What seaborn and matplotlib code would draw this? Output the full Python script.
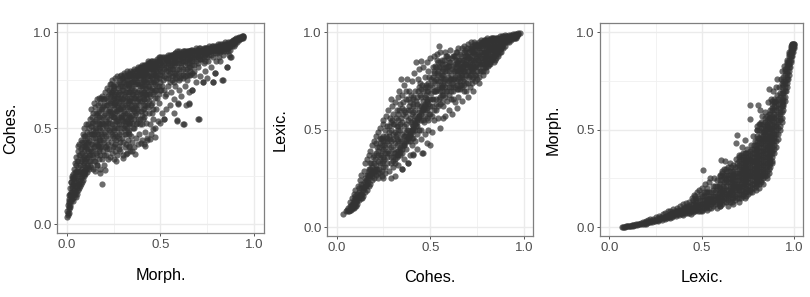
import matplotlib
matplotlib.use('Agg')
import matplotlib.pyplot as plt
import pandas as pd
import seaborn as sns

morph_a = [
    .00, .00, .005, .005, .01, .01, .01, .015, .015, .02,
    .02, .02, .025, .025, .03, .03, .03, .035, .035, .04,
    .04, .04, .04, .045, .045, .05, .05, .05, .05, .055,
    .055, .06, .06, .06, .06, .065, .065, .07, .07, .07,
    .07, .075, .075, .08, .08, .08, .08, .085, .085, .09,
    .09, .09, .09, .095, .095, .10, .10, .10, .10, .10,
    .105, .105, .11, .11, .11, .11, .115, .115, .12, .12,
    .12, .125, .125, .13, .13, .13, .13, .135, .135, .14,
    .14, .14, .14, .145, .145, .15, .15, .15, .15, .15,
    .155, .155, .16, .16, .16, .16, .165, .165, .17, .17,
    .17, .17, .175, .175, .18, .18, .18, .18, .185, .185,
    .19, .19, .19, .19, .195, .195, .20, .20, .20, .20,
    .205, .205, .21, .21, .21, .21, .215, .215, .22, .22,
    .22, .22, .225, .225, .23, .23, .23, .23, .235, .235,
    .24, .24, .24, .24, .245, .245, .25, .25, .25, .25,
    .255, .255, .26, .26, .26, .26, .265, .265, .27, .27,
    .27, .27, .275, .275, .28, .28, .28, .28, .285, .285,
    .29, .29, .29, .29, .295, .295, .30, .30, .30, .30,
    .305, .305, .31, .31, .31, .31, .315, .315, .32, .32,
    .32, .32, .325, .325, .33, .33, .33, .33, .335, .335,
    .34, .34, .34, .34, .345, .345, .35, .35, .35, .35,
    .355, .36, .36, .36, .36, .365, .365, .37, .37, .37,
    .375, .375, .38, .38, .38, .385, .385, .39, .39, .39,
    .395, .40, .40, .40, .40, .405, .405, .41, .41, .41,
    .415, .415, .42, .42, .42, .425, .43, .43, .43, .435,
    .44, .44, .44, .445, .45, .45, .45, .455, .46, .46,
    .465, .47, .47, .475, .48, .48, .48, .485, .49, .49,
    .495, .50, .50, .50, .505, .51, .51, .515, .52, .52,
    .525, .53, .53, .535, .54, .54, .545, .55, .55, .55,
    .555, .56, .56, .565, .57, .57, .575, .58, .58, .585,
    .59, .59, .595, .60, .60, .60, .605, .61, .61, .615,
    .62, .62, .625, .63, .63, .63, .635, .64, .64, .645,
    .65, .65, .655, .66, .66, .665, .67, .67, .675, .68,
    .685, .69, .69, .70, .70, .70, .705, .71, .71, .72,
    .725, .73, .73, .74, .74, .745, .75, .75, .755, .76,
    .765, .77, .775, .78, .78, .785, .79, .79, .795, .80,
    .805, .81, .81, .82, .82, .825, .83, .83, .835, .84,
    .845, .85, .855, .86, .86, .865, .87, .87, .875, .88,
    .885, .89, .89, .895, .90, .90, .905, .91, .91, .915,
    .92, .92, .925, .93, .93, .935, .94, .94, .94, .94,
    .19, .706, .626, .587, .833, .854, .783, .792, .47, .42,
    .397, .365, .35, .318, .299, .263, .459, .52, .596, .655,
    .667, .726, .872, .178, .205, .16, .427, .447, .28, .33,
    # dense core
    .008, .012, .018, .022, .012, .018, .025, .03, .022, .028,
    .032, .038, .042, .048, .035, .04, .045, .05, .055, .052,
    .058, .062, .068, .072, .078, .055, .06, .065, .07, .075,
    .08, .085, .09, .095, .10, .08, .085, .09, .095, .10,
    .105, .11, .115, .12, .125, .105, .11, .115, .12, .125,
    .13, .135, .14, .145, .15, .155, .16, .165, .17, .175,
    .13, .135, .14, .145, .15, .155, .16, .165, .17, .175,
    .18, .185, .19, .195, .20, .205, .21, .215, .22, .225,
    .18, .185, .19, .195, .20, .205, .21, .215, .22, .225,
    .23, .235, .24, .245, .25, .255, .26, .265, .27, .275,
    .23, .235, .24, .245, .25, .255, .26, .265, .27, .275,
    .23, .235, .24, .245, .25, .255, .26, .265, .27, .275,
    .28, .285, .29, .295, .30, .305, .31, .315, .32, .325,
    .28, .285, .29, .295, .30, .305, .31, .315, .32, .325,
    .28, .285, .29, .295, .30, .305, .31, .315, .32, .325,
    .28, .285, .29, .295, .30, .305, .31, .315, .32, .325,
    .33, .335, .34, .345, .35, .355, .36, .365, .37, .375,
    .33, .335, .34, .345, .35, .355, .36, .365, .37, .375,
    .33, .335, .34, .345, .35, .355, .36, .365, .37, .375,
    .33, .335, .34, .345, .35, .355, .36, .365, .37, .375,
    .38, .385, .39, .395, .40, .405, .41, .415, .42, .425,
    .38, .385, .39, .395, .40, .405, .41, .415, .42, .425,
    .38, .385, .39, .395, .40, .405, .41, .415, .42, .425,
    .38, .385, .39, .395, .40, .405, .41, .415, .42, .425,
    .43, .435, .44, .445, .45, .455, .46, .465, .47, .475,
    .43, .435, .44, .445, .45, .455, .46, .465, .47, .475,
    .43, .435, .44, .445, .45, .455, .46, .465, .47, .475,
    .43, .435, .44, .445, .45, .455, .46, .465, .47, .475,
    .48, .49, .50, .51, .52, .53, .54, .55, .56, .57,
    .48, .49, .50, .51, .52, .53, .54, .55, .56, .57,
    .48, .49, .50, .51, .52, .53, .54, .55, .56, .57,
    .48, .49, .50, .51, .52, .53, .54, .55, .56, .57,
    .58, .59, .60, .61, .62, .63, .64, .65, .66, .67,
    .58, .59, .60, .61, .62, .63, .64, .65, .66, .67,
    .58, .59, .60, .61, .62, .63, .64, .65, .66, .67,
    .58, .59, .60, .61, .62, .63, .64, .65, .66, .67,
    .68, .69, .70, .71, .72, .73, .74, .75, .76, .77,
    .68, .69, .70, .71, .72, .73, .74, .75, .76, .77,
    .68, .69, .70, .71, .72, .73, .74, .75, .76, .77,
    .78, .79, .80, .81, .82, .83, .84, .85, .86, .87,
    .78, .79, .80, .81, .82, .83, .84, .85, .86, .87,
    .88, .89, .90, .91, .92, .93, .935, .92, .90, .88,
    # gaps in the body
    .03, .045, .06, .075, .09, .105, .12, .135, .15, .165,
    .035, .05, .065, .08, .095, .11, .125, .14, .155, .17,
    .18, .19, .20, .21, .22, .23, .24, .25, .26, .27,
    .185, .195, .205, .215, .225, .235, .245, .255, .265, .275,
    .28, .29, .30, .31, .32, .33, .34, .35, .36, .37,
    .285, .295, .305, .315, .325, .335, .345, .355, .365, .375,
    .38, .39, .40, .41, .42, .43, .44, .45, .46, .47,
    .385, .395, .405, .415, .425, .435, .445, .455, .465, .475,
    .49, .50, .51, .52, .53, .54, .55, .56, .57, .58,
    .59, .60, .61, .62, .63, .64, .65, .66, .67, .68,
    .50, .52, .54, .56, .58, .60, .62, .64, .66, .68,
    .70, .72, .74, .76, .78, .80, .82, .84, .86, .88,
    .70, .72, .74, .76, .78, .80, .82, .84, .86, .88,
]
cohes_a = [
    .04, .07, .05, .10, .06, .09, .13, .08, .12, .10,
    .15, .19, .12, .22, .13, .17, .25, .15, .21, .14,
    .18, .24, .29, .16, .27, .17, .22, .31, .35, .19,
    .28, .18, .23, .33, .38, .21, .42, .20, .26, .31,
    .36, .24, .44, .22, .29, .34, .40, .27, .47, .25,
    .32, .38, .43, .28, .50, .26, .30, .36, .41, .46,
    .34, .52, .27, .31, .39, .48, .43, .52, .29, .36,
    .44, .33, .55, .30, .38, .47, .60, .42, .53, .29,
    .35, .49, .58, .40, .63, .28, .33, .45, .54, .61,
    .37, .50, .31, .42, .57, .65, .47, .62, .34, .39,
    .52, .59, .44, .66, .29, .36, .49, .63, .41, .55,
    .34, .46, .60, .67, .38, .52, .31, .43, .57, .65,
    .48, .69, .36, .41, .54, .62, .50, .71, .34, .45,
    .59, .67, .39, .55, .35, .48, .63, .73, .43, .69,
    .37, .52, .58, .75, .46, .65, .34, .41, .56, .71,
    .49, .62, .38, .53, .68, .76, .44, .73, .36, .59,
    .66, .77, .50, .71, .41, .47, .56, .63, .38, .75,
    .52, .60, .68, .78, .45, .72, .36, .43, .57, .65,
    .50, .79, .40, .54, .62, .75, .47, .69, .37, .58,
    .66, .80, .44, .73, .41, .52, .61, .77, .49, .69,
    .38, .56, .64, .80, .46, .74, .43, .53, .60, .71,
    .78, .40, .50, .66, .81, .57, .73, .45, .62, .76,
    .53, .69, .42, .59, .82, .47, .78, .55, .64, .72,
    .80, .44, .52, .68, .83, .60, .75, .42, .56, .78,
    .65, .81, .48, .71, .83, .53, .44, .62, .77, .84,
    .58, .68, .80, .52, .47, .74, .85, .63, .55, .78,
    .83, .50, .70, .60, .66, .76, .85, .54, .81, .72,
    .63, .53, .78, .86, .70, .58, .83, .75, .55, .87,
    .67, .60, .80, .85, .72, .88, .78, .62, .83, .87,
    .69, .75, .88, .81, .58, .85, .65, .72, .89, .79,
    .54, .84, .63, .70, .81, .89, .76, .87, .67, .85,
    .52, .78, .90, .72, .83, .88, .62, .75, .86, .90,
    .69, .82, .63, .78, .88, .91, .70, .85, .90, .80,
    .87, .74, .91, .55, .82, .89, .92, .77, .86, .90,
    .74, .84, .92, .80, .88, .92, .76, .90, .85, .93,
    .90, .82, .93, .74, .87, .91, .79, .93, .85, .90,
    .94, .87, .92, .85, .94, .90, .75, .93, .88, .92,
    .95, .90, .82, .93, .95, .88, .91, .95, .87, .94,
    .96, .93, .95, .96, .94, .96, .97, .95, .965, .97,
    .96, .97, .97, .97, .975, .98, .97, .975, .98, .98,
    .21, .548, .523, .541, .752, .82, .74, .789, .456, .41,
    .425, .364, .383, .366, .343, .331, .496, .549, .629, .629,
    .698, .742, .872, .265, .281, .308, .447, .445, .39, .40,
    # dense core
    .06, .11, .09, .13, .15, .16, .17, .20, .22, .24,
    .12, .17, .20, .14, .26, .22, .25, .27, .16, .24,
    .21, .26, .19, .23, .21, .33, .30, .36, .28, .33,
    .25, .23, .28, .26, .33, .37, .31, .35, .41, .28,
    .29, .35, .30, .33, .39, .43, .45, .38, .47, .36,
    .42, .36, .45, .33, .41, .43, .36, .41, .45, .50,
    .51, .47, .53, .47, .48, .55, .47, .53, .56, .38,
    .44, .47, .50, .44, .47, .53, .46, .56, .53, .49,
    .52, .60, .56, .61, .62, .58, .66, .62, .64, .60,
    .53, .57, .47, .56, .50, .56, .47, .59, .46, .55,
    .59, .64, .62, .70, .60, .67, .58, .64, .54, .61,
    .68, .73, .69, .72, .66, .72, .63, .69, .62, .68,
    .52, .60, .48, .55, .50, .56, .47, .53, .50, .55,
    .60, .66, .56, .62, .61, .68, .58, .64, .61, .63,
    .69, .72, .64, .70, .70, .74, .67, .73, .71, .69,
    .74, .77, .73, .76, .76, .78, .72, .77, .75, .78,
    .57, .56, .60, .55, .64, .60, .55, .61, .58, .64,
    .66, .64, .69, .66, .68, .68, .62, .69, .67, .74,
    .72, .73, .75, .71, .74, .74, .70, .76, .73, .78,
    .79, .78, .78, .77, .79, .80, .76, .80, .78, .81,
    .65, .62, .68, .59, .64, .67, .62, .69, .62, .68,
    .73, .70, .76, .73, .72, .72, .69, .74, .68, .74,
    .78, .74, .80, .77, .78, .79, .75, .78, .75, .79,
    .80, .81, .82, .82, .81, .82, .80, .83, .80, .82,
    .68, .72, .72, .67, .70, .71, .68, .74, .73, .70,
    .74, .78, .77, .75, .77, .76, .74, .79, .78, .75,
    .81, .82, .83, .81, .82, .81, .80, .81, .82, .80,
    .83, .85, .84, .84, .84, .85, .83, .85, .84, .83,
    .72, .76, .74, .78, .77, .76, .80, .79, .81, .79,
    .79, .83, .80, .80, .81, .82, .84, .81, .84, .83,
    .82, .85, .84, .85, .84, .86, .85, .85, .86, .87,
    .86, .87, .87, .87, .86, .87, .87, .88, .88, .88,
    .78, .81, .79, .82, .81, .80, .81, .84, .82, .83,
    .84, .86, .84, .84, .85, .85, .84, .86, .85, .87,
    .87, .88, .87, .88, .87, .89, .88, .89, .90, .89,
    .89, .90, .90, .89, .90, .90, .90, .90, .90, .91,
    .83, .85, .84, .86, .86, .87, .85, .87, .88, .88,
    .88, .88, .87, .88, .89, .90, .90, .89, .90, .90,
    .90, .92, .91, .92, .91, .91, .92, .92, .92, .92,
    .90, .89, .92, .90, .91, .92, .90, .92, .92, .93,
    .92, .92, .93, .93, .93, .94, .94, .94, .94, .94,
    .95, .95, .95, .96, .965, .97, .97, .975, .965, .955,
    # gaps in the body
    .19, .32, .41, .39, .46, .40, .50, .56, .50, .58,
    .24, .20, .27, .43, .34, .42, .31, .38, .58, .42,
    .40, .53, .36, .51, .42, .58, .50, .63, .42, .50,
    .66, .65, .40, .39, .70, .67, .40, .45, .54, .66,
    .45, .57, .54, .51, .54, .47, .53, .57, .59, .52,
    .43, .65, .59, .42, .48, .53, .62, .50, .66, .60,
    .55, .52, .57, .65, .58, .65, .64, .62, .60, .66,
    .66, .69, .55, .60, .71, .61, .70, .58, .69, .77,
    .68, .70, .72, .70, .68, .76, .74, .77, .74, .76,
    .76, .75, .78, .76, .77, .78, .78, .80, .79, .78,
    .82, .83, .82, .83, .85, .86, .87, .87, .87, .86,
    .88, .88, .89, .90, .91, .91, .92, .93, .92, .93,
    .90, .90, .91, .91, .93, .89, .895, .915, .90, .945,
]

cohes_b = [
    .034, .05, .055, .06, .065, .07, .07, .075, .08, .08,
    .085, .09, .09, .095, .10, .10, .10, .105, .11, .11,
    .115, .12, .12, .125, .13, .13, .13, .135, .14, .14,
    .145, .15, .15, .15, .155, .16, .16, .16, .165, .17,
    .17, .17, .175, .18, .18, .18, .185, .19, .19, .19,
    .195, .20, .20, .20, .205, .21, .21, .21, .215, .22,
    .22, .22, .225, .23, .23, .23, .235, .24, .24, .24,
    .245, .249, .25, .25, .25, .255, .26, .26, .26, .265,
    .27, .27, .27, .275, .28, .28, .28, .285, .288, .29,
    .29, .29, .295, .30, .30, .30, .30, .305, .31, .31,
    .313, .315, .32, .32, .32, .325, .33, .33, .33, .335,
    .34, .34, .34, .343, .345, .35, .35, .35, .355, .36,
    .36, .36, .365, .37, .37, .37, .375, .38, .38, .38,
    .385, .39, .39, .39, .395, .40, .40, .40, .405, .41,
    .41, .41, .415, .42, .42, .423, .425, .43, .43, .43,
    .435, .44, .44, .44, .445, .448, .45, .45, .45, .455,
    .46, .46, .465, .47, .47, .47, .475, .48, .48, .48,
    .485, .49, .49, .49, .495, .50, .50, .50, .505, .51,
    .51, .515, .52, .52, .52, .525, .53, .53, .534, .535,
    .54, .54, .545, .548, .55, .55, .55, .555, .56, .56,
    .565, .569, .57, .57, .578, .58, .58, .585, .59, .59,
    .595, .60, .60, .60, .605, .61, .614, .615, .62, .62,
    .625, .63, .63, .635, .64, .64, .645, .65, .65, .65,
    .655, .66, .66, .665, .67, .67, .675, .68, .68, .68,
    .685, .69, .69, .70, .70, .70, .705, .71, .71, .715,
    .72, .72, .725, .73, .73, .735, .74, .74, .74, .745,
    .75, .75, .755, .76, .76, .765, .77, .77, .775, .78,
    .78, .785, .79, .79, .795, .80, .80, .80, .805, .81,
    .81, .815, .82, .82, .825, .83, .83, .835, .84, .84,
    .845, .85, .85, .855, .86, .86, .865, .87, .87, .875,
    .88, .88, .885, .89, .89, .895, .90, .90, .905, .91,
    .91, .915, .92, .92, .925, .93, .93, .935, .94, .94,
    .945, .95, .95, .955, .96, .96, .965, .97, .97, .98,
    .33, .34, .35, .36, .37, .38, .39, .40, .41, .42,
    .43, .44, .45, .46, .47, .48, .379, .35, .41, .454,
    # dense core
    .06, .07, .075, .08, .085, .09, .095, .10, .105, .11,
    .115, .12, .125, .13, .135, .14, .145, .15, .155, .16,
    .165, .17, .175, .18, .185, .19, .195, .20, .205, .21,
    .215, .22, .225, .23, .235, .24, .245, .25, .255, .26,
    .265, .27, .275, .28, .285, .29, .295, .30, .305, .31,
    .315, .32, .325, .33, .335, .34, .345, .35, .355, .36,
    .365, .37, .375, .38, .385, .39, .395, .40, .405, .41,
    .415, .42, .425, .43, .435, .44, .445, .45, .455, .46,
    .465, .47, .475, .48, .485, .49, .495, .50, .505, .51,
    .515, .52, .525, .53, .535, .54, .545, .55, .555, .56,
    .515, .52, .525, .53, .535, .54, .545, .55, .555, .56,
    .565, .57, .575, .58, .585, .59, .595, .60, .605, .61,
    .565, .57, .575, .58, .585, .59, .595, .60, .605, .61,
    .615, .62, .625, .63, .635, .64, .645, .65, .655, .66,
    .615, .62, .625, .63, .635, .64, .645, .65, .655, .66,
    .665, .67, .675, .68, .685, .69, .695, .70, .705, .71,
    .665, .67, .675, .68, .685, .69, .695, .70, .705, .71,
    .665, .67, .675, .68, .685, .69, .695, .70, .705, .71,
    .715, .72, .725, .73, .735, .74, .745, .75, .755, .76,
    .715, .72, .725, .73, .735, .74, .745, .75, .755, .76,
    .715, .72, .725, .73, .735, .74, .745, .75, .755, .76,
    .765, .77, .775, .78, .785, .79, .795, .80, .805, .81,
    .765, .77, .775, .78, .785, .79, .795, .80, .805, .81,
    .765, .77, .775, .78, .785, .79, .795, .80, .805, .81,
    .815, .82, .825, .83, .835, .84, .845, .85, .855, .86,
    .815, .82, .825, .83, .835, .84, .845, .85, .855, .86,
    .815, .82, .825, .83, .835, .84, .845, .85, .855, .86,
    .865, .87, .875, .88, .885, .89, .895, .90, .905, .91,
    .865, .87, .875, .88, .885, .89, .895, .90, .905, .91,
    .92, .925, .93, .935, .94, .945, .95, .955, .96, .965,
    .29, .30, .31, .32, .33, .34, .35, .36, .37, .38,
    .39, .40, .41, .42, .43, .44, .45, .46, .47, .48,
    # gaps in the body
    .10, .11, .12, .13, .14, .15, .16, .17, .18, .19,
    .20, .21, .22, .23, .24, .25, .26, .27, .28, .29,
    .20, .21, .22, .23, .24, .25, .26, .27, .28, .29,
    .30, .31, .32, .33, .34, .35, .36, .37, .38, .39,
    .30, .31, .32, .33, .34, .35, .36, .37, .38, .39,
    .40, .41, .42, .43, .44, .45, .46, .47, .48, .49,
    .40, .41, .42, .43, .44, .45, .46, .47, .48, .49,
    .50, .51, .52, .53, .54, .55, .56, .57, .58, .59,
    .50, .51, .52, .53, .54, .55, .56, .57, .58, .59,
    .60, .61, .62, .63, .64, .65, .66, .67, .68, .69,
    .60, .61, .62, .63, .64, .65, .66, .67, .68, .69,
    .70, .72, .74, .76, .78, .80, .82, .84, .86, .88,
    .71, .73, .75, .77, .79, .81, .83, .85, .87, .89,
]
lexic_b = [
    .068, .08, .09, .10, .085, .09, .13, .11, .10, .15,
    .12, .10, .14, .17, .11, .15, .19, .13, .12, .17,
    .21, .14, .18, .24, .15, .20, .27, .17, .16, .22,
    .29, .18, .25, .33, .21, .19, .27, .35, .23, .21,
    .30, .37, .26, .22, .33, .39, .28, .24, .31, .42,
    .36, .25, .33, .44, .29, .27, .38, .47, .41, .25,
    .34, .49, .30, .28, .43, .51, .37, .26, .33, .46,
    .53, .25, .31, .40, .55, .35, .28, .44, .50, .57,
    .33, .38, .52, .60, .29, .42, .47, .56, .66, .25,
    .36, .50, .62, .31, .40, .45, .58, .53, .33, .64,
    .263, .47, .36, .42, .60, .67, .32, .39, .55, .70,
    .41, .50, .63, .76, .44, .30, .38, .68, .58, .35,
    .42, .73, .47, .40, .53, .66, .76, .33, .44, .60,
    .70, .37, .48, .64, .54, .42, .50, .75, .67, .37,
    .46, .59, .79, .44, .70, .846, .52, .40, .48, .63,
    .76, .50, .56, .81, .68, .855, .45, .55, .62, .73,
    .38, .82, .54, .48, .60, .77, .68, .43, .56, .85,
    .72, .50, .63, .80, .58, .42, .66, .87, .76, .49,
    .62, .82, .55, .70, .88, .74, .60, .66, .891, .79,
    .56, .85, .72, .932, .51, .63, .90, .77, .68, .86,
    .80, .562, .62, .73, .899, .57, .84, .70, .65, .88,
    .77, .60, .72, .85, .91, .66, .583, .81, .70, .88,
    .76, .64, .84, .90, .61, .80, .73, .67, .86, .92,
    .77, .71, .89, .82, .65, .92, .75, .70, .86, .93,
    .80, .74, .90, .67, .84, .94, .77, .72, .88, .95,
    .81, .92, .74, .70, .86, .95, .78, .89, .94, .83,
    .76, .92, .86, .74, .95, .80, .90, .96, .84, .78,
    .93, .87, .82, .96, .90, .80, .85, .94, .97, .83,
    .91, .96, .84, .88, .94, .86, .97, .91, .85, .95,
    .89, .87, .97, .93, .88, .96, .91, .90, .98, .95,
    .92, .97, .95, .92, .98, .96, .93, .985, .96, .95,
    .98, .97, .95, .985, .97, .96, .985, .98, .97, .99,
    .98, .97, .99, .985, .98, .99, .985, .99, .995, .995,
    .37, .385, .40, .42, .44, .46, .47, .49, .51, .53,
    .54, .57, .58, .60, .62, .64, .33, .30, .374, .381,
    # dense core
    .08, .11, .09, .12, .10, .12, .13, .13, .11, .14,
    .15, .16, .17, .17, .15, .19, .20, .21, .24, .22,
    .27, .25, .29, .27, .33, .28, .29, .30, .35, .32,
    .30, .37, .41, .33, .45, .39, .36, .47, .42, .38,
    .47, .44, .39, .52, .45, .41, .55, .48, .38, .43,
    .56, .48, .52, .44, .60, .45, .56, .48, .64, .52,
    .59, .70, .50, .55, .62, .56, .68, .58, .62, .66,
    .55, .60, .65, .56, .70, .62, .74, .67, .60, .70,
    .62, .67, .73, .65, .60, .70, .77, .62, .69, .72,
    .66, .75, .70, .76, .71, .78, .66, .70, .73, .78,
    .77, .80, .83, .82, .86, .80, .82, .85, .82, .72,
    .70, .78, .75, .72, .82, .74, .83, .68, .76, .72,
    .84, .81, .86, .80, .88, .82, .87, .80, .85, .78,
    .74, .66, .80, .72, .82, .71, .85, .76, .81, .75,
    .87, .76, .88, .80, .86, .84, .90, .80, .86, .84,
    .73, .72, .80, .76, .84, .78, .82, .74, .83, .78,
    .88, .85, .86, .90, .91, .84, .88, .80, .90, .85,
    .78, .78, .83, .83, .88, .88, .92, .87, .87, .92,
    .80, .76, .82, .77, .85, .82, .78, .80, .82, .85,
    .86, .84, .88, .83, .90, .86, .87, .88, .89, .88,
    .91, .90, .93, .90, .93, .91, .93, .94, .93, .92,
    .84, .80, .87, .82, .84, .86, .85, .88, .86, .87,
    .90, .87, .92, .89, .90, .90, .93, .91, .90, .93,
    .94, .93, .95, .95, .96, .94, .95, .96, .94, .96,
    .84, .86, .88, .89, .87, .90, .86, .89, .90, .91,
    .91, .92, .92, .93, .94, .92, .93, .93, .95, .93,
    .95, .96, .97, .96, .97, .97, .96, .96, .97, .97,
    .93, .94, .92, .94, .93, .94, .95, .95, .97, .96,
    .96, .96, .97, .96, .98, .96, .97, .97, .98, .97,
    .96, .98, .97, .97, .98, .97, .98, .97, .985, .98,
    .33, .34, .35, .37, .39, .40, .42, .43, .45, .47,
    .48, .50, .52, .54, .55, .57, .59, .61, .63, .66,
    # gaps in the body
    .16, .15, .20, .22, .20, .23, .24, .27, .30, .26,
    .37, .30, .39, .36, .29, .34, .41, .36, .38, .44,
    .28, .43, .28, .46, .42, .44, .31, .46, .49, .54,
    .53, .38, .52, .58, .53, .61, .47, .57, .66, .60,
    .36, .49, .45, .50, .37, .54, .60, .49, .50, .44,
    .53, .50, .57, .67, .59, .50, .55, .57, .70, .55,
    .46, .63, .50, .52, .72, .71, .65, .72, .61, .74,
    .58, .66, .60, .70, .62, .75, .72, .68, .76, .70,
    .73, .57, .79, .63, .75, .67, .64, .76, .67, .80,
    .75, .70, .73, .77, .75, .71, .80, .77, .73, .70,
    .83, .76, .83, .88, .78, .83, .73, .81, .80, .86,
    .78, .80, .75, .77, .80, .82, .85, .88, .89, .90,
    .82, .80, .84, .85, .88, .89, .91, .91, .92, .955,
]

lexic_c = [
    .07, .075, .08, .085, .09, .095, .10, .105, .11, .115,
    .12, .125, .13, .135, .14, .145, .15, .155, .16, .165,
    .17, .175, .18, .185, .19, .195, .20, .205, .21, .215,
    .22, .225, .23, .235, .24, .245, .25, .255, .26, .265,
    .27, .275, .28, .285, .29, .295, .30, .30, .305, .31,
    .315, .32, .325, .33, .33, .335, .34, .34, .345, .35,
    .355, .36, .36, .365, .37, .37, .375, .38, .38, .385,
    .39, .395, .40, .40, .405, .41, .41, .415, .42, .42,
    .425, .43, .43, .435, .44, .44, .445, .45, .45, .45,
    .455, .46, .46, .465, .47, .47, .475, .48, .48, .485,
    .49, .49, .495, .50, .50, .50, .506, .51, .51, .515,
    .52, .52, .525, .53, .53, .535, .54, .54, .544, .55,
    .55, .555, .56, .56, .565, .57, .57, .575, .58, .58,
    .585, .59, .59, .595, .60, .60, .60, .604, .605, .61,
    .61, .615, .62, .622, .625, .63, .63, .635, .64, .64,
    .645, .65, .65, .65, .655, .66, .66, .665, .67, .67,
    .675, .68, .68, .683, .685, .69, .69, .69, .695, .70,
    .70, .70, .70, .705, .71, .71, .715, .715, .72, .72,
    .72, .725, .73, .73, .733, .735, .74, .74, .74, .745,
    .75, .75, .75, .755, .757, .76, .76, .762, .765, .77,
    .77, .77, .775, .78, .78, .78, .785, .79, .79, .79,
    .795, .80, .80, .80, .804, .805, .81, .81, .81, .814,
    .815, .82, .82, .82, .825, .83, .83, .83, .835, .84,
    .84, .84, .845, .85, .85, .85, .85, .855, .86, .86,
    .861, .865, .87, .87, .87, .875, .88, .88, .88, .88,
    .885, .89, .89, .89, .895, .90, .90, .90, .90, .905,
    .905, .91, .91, .91, .915, .92, .92, .92, .925, .93,
    .93, .93, .935, .94, .94, .94, .945, .95, .95, .95,
    .955, .96, .96, .96, .965, .97, .97, .97, .975, .98,
    .98, .985, .985, .99, .99, .99, .995, .995, .995, .995,
    # dense core
    .30, .31, .32, .33, .34, .35, .36, .37, .38, .39,
    .40, .41, .42, .43, .44, .45, .46, .47, .48, .49,
    .40, .41, .42, .43, .44, .45, .46, .47, .48, .49,
    .50, .51, .52, .53, .54, .55, .56, .57, .58, .59,
    .50, .51, .52, .53, .54, .55, .56, .57, .58, .59,
    .50, .51, .52, .53, .54, .55, .56, .57, .58, .59,
    .60, .61, .62, .63, .64, .65, .66, .67, .68, .69,
    .60, .61, .62, .63, .64, .65, .66, .67, .68, .69,
    .60, .61, .62, .63, .64, .65, .66, .67, .68, .69,
    .60, .61, .62, .63, .64, .65, .66, .67, .68, .69,
    .60, .61, .62, .63, .64, .65, .66, .67, .68, .69,
    .60, .61, .62, .63, .64, .65, .66, .67, .68, .69,
    .70, .71, .72, .73, .74, .75, .76, .77, .78, .79,
    .70, .71, .72, .73, .74, .75, .76, .77, .78, .79,
    .70, .71, .72, .73, .74, .75, .76, .77, .78, .79,
    .70, .71, .72, .73, .74, .75, .76, .77, .78, .79,
    .70, .71, .72, .73, .74, .75, .76, .77, .78, .79,
    .70, .71, .72, .73, .74, .75, .76, .77, .78, .79,
    .70, .71, .72, .73, .74, .75, .76, .77, .78, .79,
    .70, .71, .72, .73, .74, .75, .76, .77, .78, .79,
    .70, .71, .72, .73, .74, .75, .76, .77, .78, .79,
    .80, .81, .82, .83, .84, .85, .86, .87, .88, .89,
    .80, .81, .82, .83, .84, .85, .86, .87, .88, .89,
    .80, .81, .82, .83, .84, .85, .86, .87, .88, .89,
    .80, .81, .82, .83, .84, .85, .86, .87, .88, .89,
    .80, .81, .82, .83, .84, .85, .86, .87, .88, .89,
    .80, .81, .82, .83, .84, .85, .86, .87, .88, .89,
    .80, .81, .82, .83, .84, .85, .86, .87, .88, .89,
    .80, .81, .82, .83, .84, .85, .86, .87, .88, .89,
    .80, .81, .82, .83, .84, .85, .86, .87, .88, .89,
    .80, .81, .82, .83, .84, .85, .86, .87, .88, .89,
    .80, .81, .82, .83, .84, .85, .86, .87, .88, .89,
    .80, .81, .82, .83, .84, .85, .86, .87, .88, .89,
    .80, .81, .82, .83, .84, .85, .86, .87, .88, .89,
    .80, .81, .82, .83, .84, .85, .86, .87, .88, .89,
    .90, .91, .92, .93, .94, .95, .96, .97, .98, .985,
    .90, .91, .92, .93, .94, .95, .96, .97, .98, .985,
    .90, .91, .92, .93, .94, .95, .96, .97, .98, .985,
    .90, .91, .92, .93, .94, .95, .96, .97, .98, .985,
    .90, .91, .92, .93, .94, .95, .96, .97, .98, .985,
    .90, .91, .92, .93, .94, .95, .96, .97, .98, .985,
    # gaps in the band
    .20, .22, .24, .26, .28, .30, .32, .34, .36, .38,
    .40, .42, .44, .46, .48, .50, .52, .54, .56, .58,
    .60, .62, .64, .66, .68, .70, .72, .74, .76, .78,
    .61, .63, .65, .67, .69, .71, .73, .75, .77, .79,
    .82, .84, .86, .88, .90, .92, .94, .96, .97, .98,
]
morph_c = [
    .00, .00, .002, .002, .003, .004, .004, .005, .006, .006,
    .008, .006, .01, .012, .01, .014, .012, .018, .016, .014,
    .02, .016, .024, .018, .026, .02, .03, .022, .034, .026,
    .04, .03, .028, .042, .035, .03, .05, .036, .045, .032,
    .055, .04, .05, .036, .065, .045, .04, .07, .055, .046,
    .08, .05, .065, .045, .085, .06, .05, .075, .095, .06,
    .085, .055, .075, .10, .065, .09, .06, .08, .11, .07,
    .095, .065, .075, .12, .10, .07, .09, .125, .08, .11,
    .09, .07, .13, .10, .08, .12, .15, .075, .10, .14,
    .165, .085, .12, .16, .09, .13, .18, .10, .15, .19,
    .085, .12, .17, .09, .14, .20, .294, .10, .16, .22,
    .11, .18, .14, .09, .20, .12, .15, .23, .251, .10,
    .18, .13, .11, .21, .25, .12, .16, .19, .10, .24,
    .15, .12, .21, .27, .11, .18, .24, .344, .15, .28,
    .12, .21, .16, .34, .25, .13, .19, .29, .11, .23,
    .17, .13, .21, .27, .31, .15, .24, .19, .12, .29,
    .22, .14, .26, .431, .35, .17, .472, .31, .24, .13,
    .19, .28, .36, .21, .15, .33, .412, .25, .17, .30,
    .38, .22, .15, .27, .446, .33, .18, .24, .36, .40,
    .17, .21, .30, .27, .557, .19, .35, .626, .42, .18,
    .24, .32, .47, .20, .28, .38, .44, .19, .25, .34,
    .50, .22, .30, .40, .629, .46, .20, .27, .36, .60,
    .53, .24, .32, .43, .57, .22, .29, .39, .49, .26,
    .35, .59, .45, .25, .31, .41, .52, .64, .28, .37,
    .708, .47, .31, .40, .56, .66, .33, .43, .51, .61,
    .70, .38, .47, .56, .65, .41, .52, .60, .72, .762,
    .68, .45, .55, .63, .72, .50, .59, .67, .76, .54,
    .64, .72, .80, .60, .69, .77, .83, .65, .74, .81,
    .70, .72, .79, .85, .76, .78, .84, .89, .82, .85,
    .90, .88, .92, .90, .92, .94, .92, .93, .94, .94,
    # dense core
    .05, .055, .06, .06, .065, .07, .07, .08, .075, .08,
    .09, .08, .10, .09, .10, .09, .10, .11, .12, .11,
    .06, .105, .07, .11, .065, .12, .14, .15, .08, .14,
    .11, .12, .13, .11, .13, .12, .13, .14, .13, .14,
    .16, .14, .16, .15, .18, .15, .16, .18, .16, .17,
    .08, .18, .10, .18, .10, .16, .19, .21, .21, .19,
    .13, .14, .13, .15, .14, .15, .13, .15, .16, .15,
    .16, .17, .18, .17, .16, .18, .17, .17, .19, .19,
    .20, .19, .20, .21, .19, .23, .20, .21, .22, .21,
    .22, .24, .23, .24, .25, .25, .22, .24, .24, .26,
    .26, .26, .27, .27, .27, .29, .26, .27, .28, .28,
    .11, .29, .30, .30, .31, .33, .29, .32, .31, .33,
    .15, .17, .16, .18, .16, .19, .18, .20, .22, .21,
    .17, .19, .19, .20, .20, .23, .21, .22, .24, .23,
    .21, .22, .21, .23, .22, .25, .23, .26, .26, .27,
    .24, .24, .25, .25, .26, .27, .26, .28, .30, .29,
    .26, .27, .28, .29, .28, .29, .29, .30, .32, .31,
    .30, .29, .31, .31, .30, .32, .31, .34, .34, .36,
    .32, .31, .33, .33, .32, .34, .33, .36, .36, .38,
    .34, .35, .35, .35, .34, .36, .37, .38, .40, .40,
    .37, .37, .36, .38, .38, .38, .39, .40, .42, .42,
    .23, .22, .23, .25, .28, .27, .30, .33, .34, .40,
    .25, .24, .26, .27, .30, .29, .32, .35, .36, .42,
    .27, .26, .28, .30, .33, .33, .34, .37, .39, .44,
    .29, .29, .30, .32, .36, .36, .36, .39, .41, .46,
    .31, .31, .33, .34, .38, .38, .38, .41, .44, .48,
    .33, .33, .35, .36, .40, .40, .40, .43, .46, .50,
    .35, .35, .37, .38, .42, .43, .42, .45, .48, .52,
    .37, .37, .39, .41, .44, .45, .44, .47, .50, .54,
    .39, .39, .41, .43, .46, .47, .46, .49, .53, .56,
    .42, .41, .44, .45, .48, .49, .49, .51, .55, .58,
    .44, .43, .46, .47, .50, .51, .51, .53, .57, .60,
    .47, .46, .48, .49, .52, .53, .54, .56, .60, .62,
    .50, .50, .51, .51, .54, .55, .56, .58, .63, .64,
    .52, .53, .54, .53, .56, .57, .58, .60, .65, .66,
    .44, .48, .52, .56, .62, .67, .74, .80, .86, .90,
    .48, .51, .55, .59, .65, .70, .77, .82, .88, .91,
    .53, .54, .58, .62, .67, .72, .80, .84, .90, .93,
    .57, .58, .61, .66, .70, .75, .82, .86, .91, .94,
    .62, .61, .64, .69, .73, .78, .84, .88, .92, .935,
    .65, .66, .69, .74, .75, .80, .86, .90, .93, .94,
    # gaps in the band
    .018, .024, .03, .035, .045, .05, .055, .055, .065, .07,
    .085, .09, .09, .105, .11, .12, .125, .14, .14, .15,
    .14, .15, .17, .18, .20, .20, .23, .25, .27, .29,
    .18, .23, .20, .25, .22, .28, .30, .35, .34, .33,
    .27, .32, .34, .38, .50, .56, .63, .76, .85, .88,
]

panels = [
    ('Morph.', 'Cohes.', morph_a, cohes_a),
    ('Cohes.', 'Lexic.', cohes_b, lexic_b),
    ('Lexic.', 'Morph.', lexic_c, morph_c),
]
ticks = [0.0, 0.5, 1.0]
minor = [0.25, 0.75]
# panel edges in pixels: left, right, top, bottom
boxes = [(57.3, 263.5, 22.7, 233.3), (327.3, 533.3, 22.7, 236), (600.3, 803, 22.7, 236)]
ylims = [(-0.047, 1.05), (-0.046, 1.05), (-0.046, 1.05)]
xlims = [(-0.05, 1.05), (-0.05, 1.05), (-0.049, 1.046)]

sns.set_theme(style='white')
plt.rcParams['font.family'] = ['Liberation Sans', 'DejaVu Sans']

W, H = 810, 297
fig = plt.figure(figsize=(8.1, 2.97), dpi=100)
for i, (xname, yname, xs, ys) in enumerate(panels):
    l, r, t, b = boxes[i]
    ax = fig.add_axes([l / W, 1 - b / H, (r - l) / W, (b - t) / H])
    df = pd.DataFrame({xname: xs, yname: ys})
    sns.scatterplot(data=df, x=xname, y=yname, ax=ax, s=20, color='#333333',
                    alpha=0.72, linewidth=0, zorder=3)
    ax.set_xlim(xlims[i])
    ax.set_ylim(ylims[i])
    ax.set_xticks(ticks)
    ax.set_yticks(ticks)
    ax.set_xticklabels(['0.0', '0.5', '1.0'])
    ax.set_yticklabels(['0.0', '0.5', '1.0'])
    ax.set_xticks(minor, minor=True)
    ax.set_yticks(minor, minor=True)
    ax.grid(True, which='major', color='#EBEBEB', lw=1.0, zorder=0)
    ax.grid(True, which='minor', color='#F0F0F0', lw=0.6, zorder=0)
    ax.set_axisbelow(True)
    ax.tick_params(axis='both', which='major', length=2.5, width=0.7, color='#555555',
                   labelsize=9.5, labelcolor='#4D4D4D', pad=1.5, bottom=True, left=True)
    ax.tick_params(axis='both', which='minor', length=0)
    for s in ax.spines.values():
        s.set_color('#7F7F7F')
        s.set_linewidth(0.9)
    ax.set_xlabel(xname, fontsize=11.7, color='black', labelpad=12)
    ax.set_ylabel(yname, fontsize=11.7, color='black', labelpad=11)

plt.savefig('out.png', dpi=100)
